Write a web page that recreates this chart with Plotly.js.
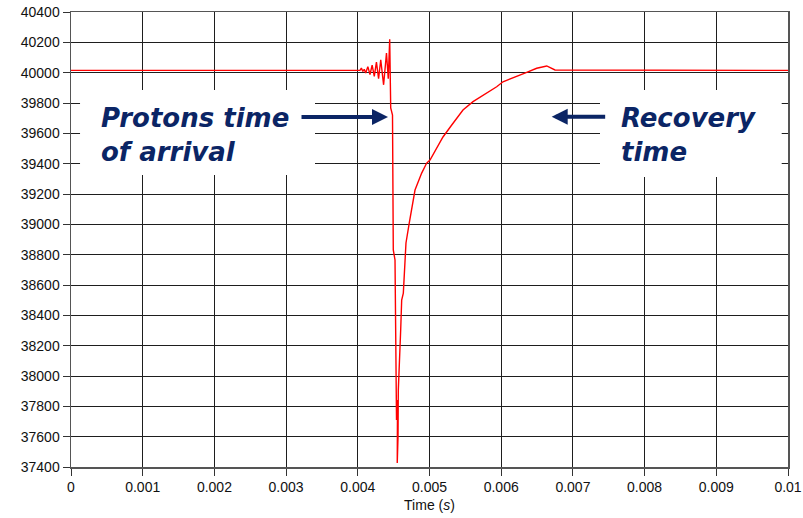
<!DOCTYPE html>
<html>
<head>
<meta charset="utf-8">
<script src="https://cdn.plot.ly/plotly-3.0.1.min.js"></script>
<style>html,body{margin:0;padding:0;background:#fff;}#chart{width:803px;height:518px;}</style>
</head>
<body>
<div id="chart"></div>
<script>
// Time (s) and signal value
const timeMs = [0, 4.03, 4.05, 4.07, 4.09, 4.11, 4.14, 4.17, 4.20, 4.23, 4.26, 4.29, 4.32, 4.36, 4.40, 4.425, 4.445,
  4.459, 4.484, 4.495, 4.519, 4.533, 4.540, 4.554, 4.547, 4.550,
  4.561, 4.565, 4.598, 4.612, 4.635, 4.658, 4.672, 4.718, 4.774, 4.798, 4.891, 4.961, 5.007,
  5.188, 5.310, 5.467, 5.607, 5.798, 5.937, 6.025, 6.216, 6.356, 6.495, 6.635, 6.750, 10];
const signal = [40015, 40015, 40030, 40008, 40022, 39998, 40040, 39988, 40050, 39975, 40070, 39960, 40085, 39920, 40130, 39960, 40220,
  39767, 39721, 38831, 38765, 37907, 37710, 37841, 37598, 37426,
  37598, 37907, 38303, 38501, 38547, 38831, 38877, 39009, 39180, 39226, 39338, 39404, 39424,
  39576, 39655, 39754, 39809, 39866, 39907, 39940, 39973, 40002, 40029, 40044, 40018, 40015];
const timeS = timeMs.map(v => v / 1000);

const navy = '#0b2565';
const trace = {
  x: timeS, y: signal, type: 'scatter', mode: 'lines',
  line: {color: '#ff0000', width: 1.4}, hoverinfo: 'skip'
};

const axisCommon = {
  showline: true, mirror: true, linecolor: '#555', linewidth: 1.5,
  showgrid: true, gridcolor: '#1e1e1e', gridwidth: 1,
  zeroline: false, ticks: 'outside', ticklen: 7, tickwidth: 1, tickcolor: '#333',
  tickfont: {family: 'Liberation Sans', size: 14, color: '#111'}
};

const layout = {
  width: 803, height: 518,
  margin: {l: 71, r: 15, t: 12, b: 51},
  paper_bgcolor: '#fff', plot_bgcolor: '#fff',
  showlegend: false,
  xaxis: Object.assign({}, axisCommon, {
    range: [0, 0.01], dtick: 0.001, tick0: 0,
    title: {text: 'Time (<i>s</i>)', font: {family: 'Liberation Sans', size: 14, color: '#111'}, standoff: 6}
  }),
  yaxis: Object.assign({}, axisCommon, {
    range: [37400, 40400], dtick: 200, tick0: 37400, tickformat: 'd'
  }),
  shapes: [
    {type: 'rect', xref: 'x', yref: 'y', x0: 0.000126, x1: 0.003403, y0: 39325, y1: 39886,
      fillcolor: '#fff', line: {width: 0}, layer: 'above'},
    {type: 'rect', xref: 'x', yref: 'y', x0: 0.007378, x1: 0.009912, y0: 39312, y1: 39886,
      fillcolor: '#fff', line: {width: 0}, layer: 'above'}
  ],
  annotations: [
    {xref: 'x', yref: 'y', x: 0.000404, y: 39589, xanchor: 'left', yanchor: 'middle', align: 'left',
      text: 'Protons time<br>of arrival', showarrow: false, borderpad: 0,
      font: {family: 'DejaVu Sans', size: 26, weight: 'bold', style: 'italic', color: navy}},
    {xref: 'x', yref: 'y', x: 0.007657, y: 39589, xanchor: 'left', yanchor: 'middle', align: 'left',
      text: 'Recovery<br>time', showarrow: false, borderpad: 0,
      font: {family: 'DejaVu Sans', size: 26, weight: 'bold', style: 'italic', color: navy}},
    {xref: 'x', yref: 'y', axref: 'x', ayref: 'y', x: 0.004421, y: 39708, ax: 0.003194, ay: 39708,
      text: '', showarrow: true, arrowhead: 2, arrowsize: 0.8, arrowwidth: 4, arrowcolor: navy},
    {xref: 'x', yref: 'y', axref: 'x', ayref: 'y', x: 0.006704, y: 39710, ax: 0.007471, ay: 39710,
      text: '', showarrow: true, arrowhead: 2, arrowsize: 0.8, arrowwidth: 4, arrowcolor: navy}
  ]
};

Plotly.newPlot('chart', [trace], layout, {displayModeBar: false, staticPlot: true});
</script>
</body>
</html>
